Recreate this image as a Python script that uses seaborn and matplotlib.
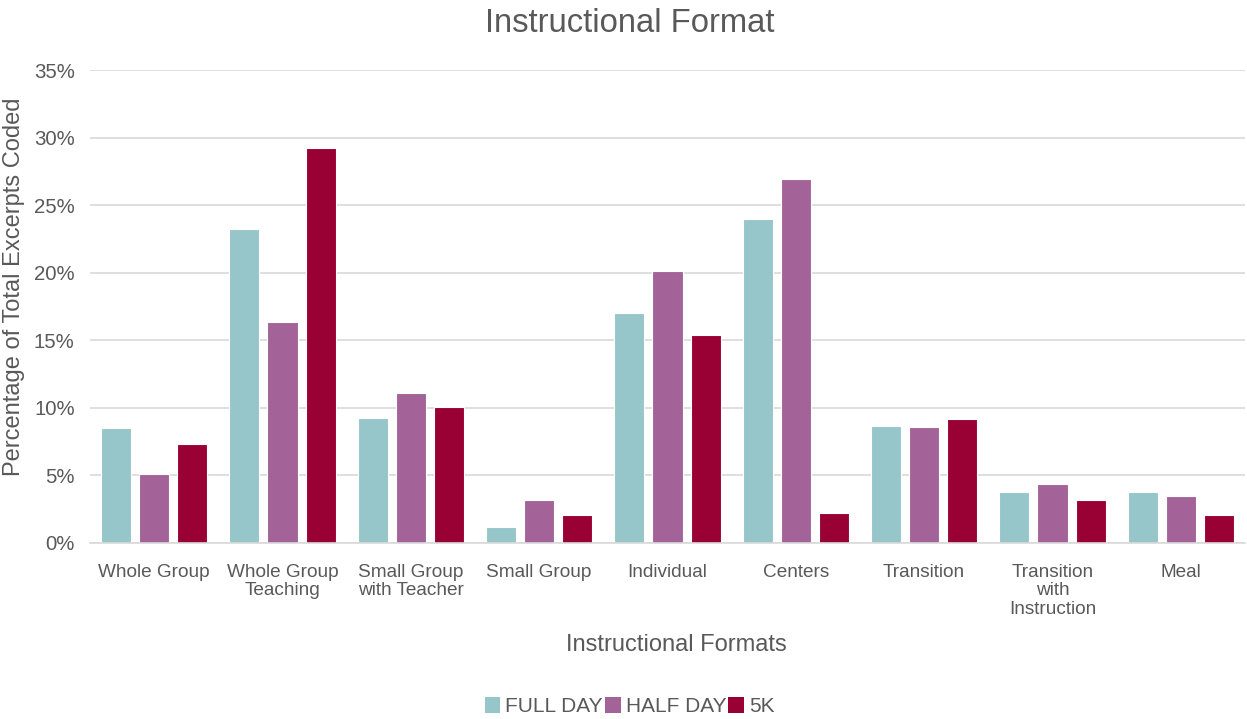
import matplotlib
matplotlib.use("Agg")
import matplotlib.pyplot as plt
import seaborn as sns
import pandas as pd
from matplotlib.ticker import FuncFormatter
from matplotlib.patches import Patch

categories = ["Whole Group", "Whole Group\nTeaching", "Small Group\nwith Teacher", "Small Group",
              "Individual", "Centers", "Transition", "Transition\nwith\nInstruction", "Meal"]
series = ["FULL DAY", "HALF DAY", "5K"]
full_day = [8.5, 23.25, 9.25, 1.2, 17.0, 23.95, 8.65, 3.8, 3.8]
half_day = [5.1, 16.35, 11.1, 3.2, 20.15, 26.95, 8.6, 4.4, 3.5]
five_k = [7.35, 29.2, 10.05, 2.1, 15.4, 2.2, 9.2, 3.2, 2.1]
colors = ["#96C6C9", "#A36399", "#990033"]
yticks = [0, 5, 10, 15, 20, 25, 30, 35]

rows = []
for s, vals in zip(series, [full_day, half_day, five_k]):
    for c, v in zip(categories, vals):
        rows.append({"cat": c, "series": s, "val": v})
df = pd.DataFrame(rows)

sns.set_style("white")
plt.rcParams['font.family'] = ['Liberation Sans', 'DejaVu Sans']
text_color = "#595959"

fig = plt.figure(figsize=(12.47, 7.19), dpi=100)
ax = fig.add_axes([90/1247, 1 - 543/719, 1155/1247, (543-70)/719])

sns.barplot(data=df, x="cat", y="val", hue="series", order=categories, hue_order=series,
            palette=colors, width=0.89, gap=0.21, ax=ax, edgecolor="white", linewidth=0.8,
            legend=False, saturation=1)

ax.set_ylim(0, 35)
ax.set_xlim(-0.5, len(categories) - 0.5)
ax.set_yticks(yticks)
ax.yaxis.set_major_formatter(FuncFormatter(lambda v, p: f"{int(v)}%"))
ax.grid(axis="y", color="#D9D9D9", linewidth=1.2)
ax.set_axisbelow(True)
for sp in ["top", "right", "left"]:
    ax.spines[sp].set_visible(False)
ax.spines["bottom"].set_color("#D9D9D9")
ax.spines["bottom"].set_linewidth(1.2)
ax.tick_params(axis="x", length=0, labelsize=13.7, colors=text_color, pad=15)
ax.tick_params(axis="y", length=0, labelsize=14.7, colors=text_color, pad=11)
for lbl in ax.get_xticklabels():
    lbl.set_linespacing(1.12)

ax.set_xlabel("Instructional Formats", fontsize=17, color=text_color, va="center")
ax.xaxis.set_label_coords(0.508, -0.2156)
ax.set_ylabel("Percentage of Total Excerpts Coded", fontsize=17, color=text_color, va="center")
ax.yaxis.set_label_coords(-0.0655, 0.541)
fig.text(0.505, 0.968, "Instructional Format", ha="center", va="center", fontsize=23.6, color=text_color)

handles = [Patch(facecolor=c, edgecolor="none", label=s) for c, s in zip(colors, series)]
fig.legend(handles=handles, loc="center", bbox_to_anchor=(0.505, 0.017), ncol=3, frameon=False,
           fontsize=15, labelcolor=text_color, handlelength=0.75, handleheight=0.75,
           handletextpad=0.25, columnspacing=0.1)

fig.savefig("out.png", dpi=100)
